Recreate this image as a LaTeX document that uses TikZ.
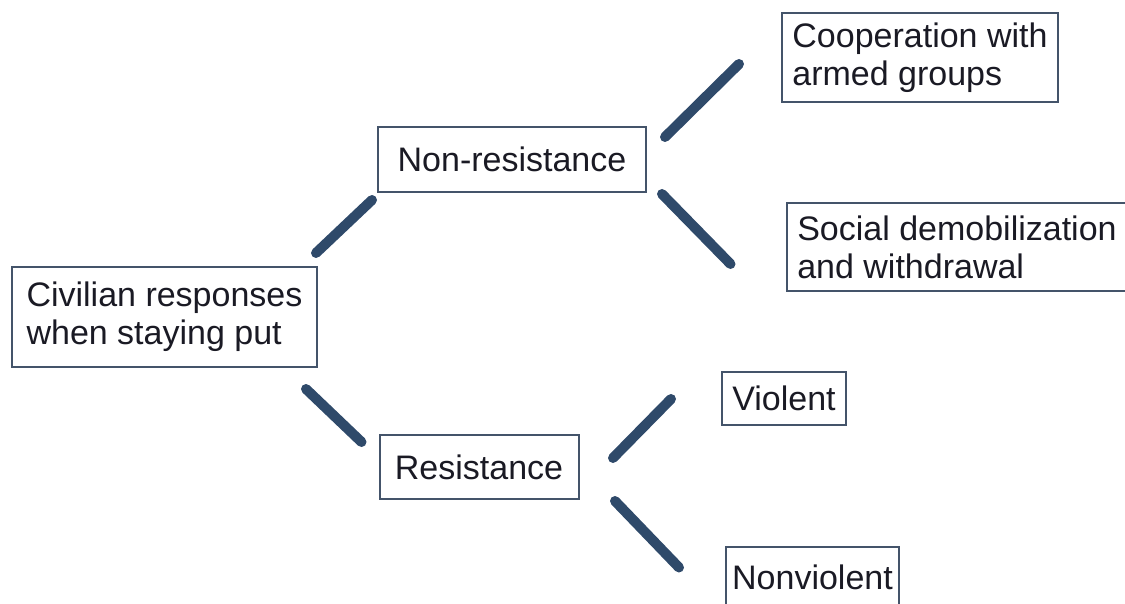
\documentclass[tikz,border=0pt]{standalone}
\usepackage{fontspec}
\setmainfont{Liberation Sans}
\definecolor{linec}{HTML}{2F4A6A}
\definecolor{boxc}{HTML}{44546A}
\definecolor{textc}{HTML}{1A1A24}
\begin{document}
\begin{tikzpicture}[x=1pt,y=1pt,
  box/.style={draw=boxc, line width=2pt, fill=white, text=textc, align=left,
    font=\fontsize{34}{38}\selectfont, inner sep=0pt},
  link/.style={draw=linec, line width=10pt, line cap=round}]
\useasboundingbox (0,0) rectangle (1125,-604);
\node[box, minimum width=305, minimum height=100] (civ) at (164.5,-317) {Civilian responses\\when staying put};
\node[box, minimum width=268, minimum height=65] (nr) at (512,-159.5) {Non-resistance};
\node[box, minimum width=199, minimum height=64] (res) at (479,-467) {Resistance};
\node[box, minimum width=276, minimum height=89] (coop) at (920,-57.5) {Cooperation with\\armed groups};
\node[box, minimum width=341, minimum height=88] (soc) at (957,-247) {Social demobilization\\and withdrawal};
\node[box, minimum width=124, minimum height=53] (vio) at (784,-398.5) {Violent};
\node[box, minimum width=173, minimum height=60] (nvio) at (812.5,-577) {Nonviolent};
\draw[link] ([shift={(-2,13)}]civ.north east) -- ([shift={(-5,-7)}]nr.south west);
\draw[link] ([shift={(-12,-21)}]civ.south east) -- ([shift={(-17,-8)}]res.north west);
\draw[link] ([shift={(18,-11)}]nr.north east) -- ([shift={(-42,39)}]coop.south west);
\draw[link] ([shift={(15,-1)}]nr.south east) -- ([shift={(-55,28)}]soc.south west);
\draw[link] ([shift={(33.5,-24)}]res.north east) -- ([shift={(-50,27)}]vio.south west);
\draw[link] ([shift={(35.5,-1)}]res.south east) -- ([shift={(-46,-21.5)}]nvio.north west);
\end{tikzpicture}
\end{document}
